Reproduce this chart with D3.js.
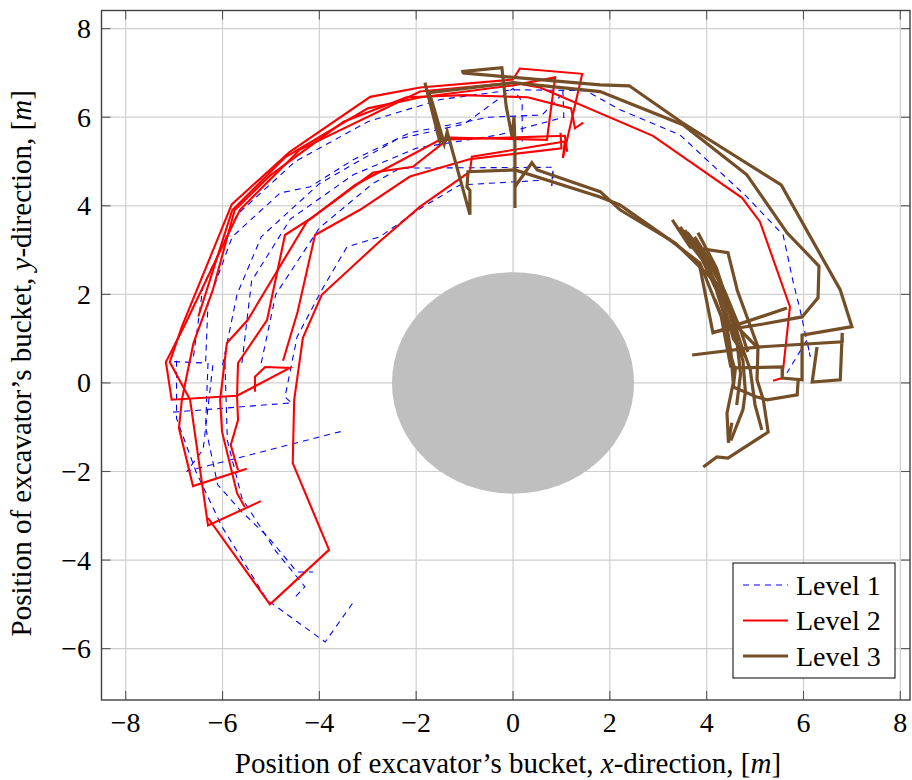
<!DOCTYPE html>
<html>
<head>
<meta charset="utf-8">
<script src="https://cdn.jsdelivr.net/npm/d3@7"></script>
<style>
  body { margin: 0; background: #fff; }
  svg text { font-family: "Liberation Serif", "DejaVu Serif", serif; fill: #000; }
</style>
</head>
<body>
<div class="chart"></div>
<script>
// ticks
var xTicks = [-8, -6, -4, -2, 0, 2, 4, 6, 8];
var yTicks = [-6, -4, -2, 0, 2, 4, 6, 8];

// obstacle (machine body) radius, m
var obstacleRadius = 2.5;

// Level 1 bucket trajectories [x, y] in m
var level1 = [
  [[-6.95,0.5],[-6.95,-0.8],[-6.55,-2.0],[-6.01,-3.25],[-5.08,-4.9],[-3.88,-5.85],[-3.31,-4.97]],
  [[-6.3,0.45],[-6.35,-1.0],[-6.1,-2.3],[-5.64,-2.87],[-5.06,-3.48],[-4.46,-4.27],[-4.13,-4.27]],
  [[-5.95,0.45],[-5.9,-1.3],[-5.6,-2.6],[-4.9,-3.8],[-4.3,-4.6],[-4.55,-4.9]],
  [[-6.2,0.4],[-6.4,-1.5],[-6.73,-1.99],[-3.53,-1.09]],
  [[-7.02,-0.66],[-4.57,-0.45],[-4.71,-0.32],[-4.46,1.04],[-3.95,2.1],[-3.43,3.07],[-2.75,3.3],[-1.9,3.95],[-1.1,4.47],[0.83,4.59],[0.82,4.8],[0.8,4.45]],
  [[-7.0,0.48],[-6.35,0.45],[-6.3,1.8],[-5.8,3.3],[-4.81,4.29],[-4.19,4.43],[-3.3,5.04],[-2.13,5.65],[-0.5,6.0],[0.6,6.05],[1.0,6.5]],
  [[-6.6,0.6],[-6.4,2.2],[-5.7,3.8],[-4.5,5.0],[-3.0,5.9],[-1.5,6.4],[0,6.62],[1.5,6.6],[2.21,6.17],[3.45,5.6],[4.83,4.2],[5.58,3.34],[5.79,2.26],[5.93,1.65],[6.14,0.59],[6.07,0.97],[5.66,0.23]],
  [[-6.0,0.4],[-5.7,2.0],[-5.2,3.3],[-4.0,4.5],[-2.4,5.5],[-1.0,5.85],[0.0,6.65],[0.19,6.35],[0.19,5.45]],
  [[-5.6,0.45],[-5.4,2.3],[-4.6,3.7],[-3.3,4.7],[-2.0,5.3],[-0.3,5.6],[1.05,6.0],[1.03,6.6]],
  [[-5.2,0.45],[-4.9,2.0],[-4.0,3.5],[-2.9,4.5],[-2.33,4.85],[0.83,4.87],[0.8,4.45]]
];

// Level 2 bucket trajectories
var level2 = [
  [[-5.21,-2.67],[-6.3,-3.22],[-6.67,-0.38],[-7.09,0.47],[-6.84,1.27],[-5.81,4.03],[-4.61,5.22],[-2.95,6.46],[-1.92,6.67],[0,6.85],[0.14,7.1],[1.43,6.98],[1.03,5.08]],
  [[-5.33,-0.2],[-5.33,0.14],[-5.12,0.36],[-4.61,0.34],[-5.7,-0.29],[-7.05,-0.38],[-7.17,0.47],[-6.78,1.31],[-5.64,3.91],[-4.4,5.27],[-1.92,6.58],[0,6.78],[0.56,6.67],[2.89,5.58],[4.73,4.18],[5.1,3.64],[5.72,1.72],[5.56,0.11],[5.37,0.05]],
  [[-6.3,-3.05],[-5.02,-5.0],[-3.8,-3.77],[-4.55,-1.81],[-4.52,-0.38],[-4.34,1.02],[-3.95,1.99],[-2.79,3.16],[-1.92,3.98],[-0.89,4.77],[-0.85,5.11],[1.07,5.45],[1.03,5.08]],
  [[-5.54,-2.8],[-5.7,-2.49],[-6.01,-1.1],[-6.05,-0.38],[-5.91,0.9],[-5.48,1.42],[-4.26,3.64],[-3.26,4.47],[-1.51,5.49],[1.07,5.58],[1.12,5.22]],
  [[-5.68,-1.97],[-5.83,-1.4],[-5.68,-0.84],[-5.7,-0.3],[-5.68,0.45],[-5.08,1.42],[-4.71,3.34],[-4.13,3.75],[-2.89,4.75],[-2.07,4.88],[-1.3,5.54],[0.7,5.49],[0.87,6.9],[0,6.72],[-1.9,6.45],[-3.0,6.2],[-4.7,5.1],[-5.8,3.9],[-6.5,1.5]],
  [[-5.5,-1.94],[-6.61,-2.33],[-6.9,-1.02],[-6.84,-0.38],[-6.6,0.9],[-6.2,2.1],[-5.75,3.9],[-5.0,4.7],[-3.5,5.9],[-2.2,6.45],[-1.0,6.5],[0.3,6.45],[1.2,6.2],[1.28,5.75],[1.45,5.88]],
  [[-4.75,0.5],[-4.45,1.6],[-4.09,3.34],[-3.16,3.91],[-2.13,4.66],[-0.9,5.05],[1.0,5.3],[0.98,5.65]]
];

// Level 3 bucket trajectories
var level3 = [
  [[-1.82,6.78],[-1.5,5.4],[-1.75,6.6],[-1.45,5.45],[-1.7,6.45],[-1.42,5.4],[-1.36,5.67],[-0.89,3.8],[-0.89,4.35],[-0.95,4.42],[-0.93,4.77],[0.04,4.81],[1.8,4.2],[2.21,4.02],[3.24,3.23],[3.86,2.71],[4.3,1.5],[4.5,0.35]],
  [[-1.07,7.03],[-0.23,7.12],[-0.14,6.24],[-0.02,5.56],[0.02,6.01],[0.04,5.38],[0.04,3.95]],
  [[-1.05,7.0],[1.8,6.73],[2.4,6.71],[3.49,5.88],[5.54,4.47],[6.76,2.1],[7.0,1.27],[5.97,1.08],[5.97,0.07],[5.56,0.11],[5.56,0.36],[4.55,0.34]],
  [[-1.78,6.55],[0,6.78],[1.8,6.58],[3.51,5.83],[4.83,4.7],[5.66,3.39],[6.32,2.64],[6.3,1.92],[5.97,1.49],[5.17,1.33],[4.13,1.15]],
  [[0.04,4.43],[0.39,4.97],[0.5,4.81],[1.8,4.32],[2.21,3.91],[3.35,3.16],[4.28,2.17],[4.6,1.2],[4.7,0.2],[4.62,-0.5]],
  [[3.29,3.68],[3.66,3.07],[4.44,2.94],[4.59,2.28],[4.63,2.1],[5.06,0.81],[5.04,0.07],[5.17,-0.38],[5.27,-1.11],[4.44,-1.7],[4.21,-1.67],[3.93,-1.9]],
  [[3.82,3.39],[4.2,2.6],[4.5,1.6],[4.7,0.9],[4.9,0.3],[5.0,-0.5],[5.14,-1.06]],
  [[3.4,3.5],[3.9,2.8],[4.2,2.1],[4.4,1.4],[4.5,0.7],[4.55,0.0],[4.42,-0.68],[4.45,-1.35],[4.52,-0.9]],
  [[3.7,0.63],[5.04,0.81],[6.8,0.93],[6.8,1.13],[6.76,0.07],[6.18,0.02],[6.28,0.81]],
  [[3.86,2.62],[4.13,1.13],[5.66,1.69]],
  [[4.55,-0.09],[5.04,-0.32],[5.25,-0.38],[5.87,-0.27],[5.89,0.07]],
  [[4.55,-0.09],[4.59,0.29],[4.48,0.68],[4.42,1.2],[4.17,1.88]],
  [[3.6,3.4],[3.95,2.9],[4.25,2.3],[4.45,1.7],[4.6,1.0],[4.75,0.5],[4.8,-0.2],[4.75,-0.6],[4.5,-1.3]],
  [[3.45,3.52],[3.9,2.9],[4.3,2.0],[4.6,1.3],[5.04,0.81]],
  [[3.55,3.45],[4.0,2.7],[4.35,1.8],[4.55,1.0],[4.8,0.6]],
  [[3.75,3.3],[4.1,2.7],[4.4,2.0],[4.7,1.2],[4.85,0.7]]
];

var seriesNames = ["Level 1", "Level 2", "Level 3"];

var width = 912, height = 780;
var mLeft = 101.5, mRight = 910, mTop = 10.5, mBottom = 700;

var svg = d3.select(".chart").append("svg")
  .attr("width", width).attr("height", height);

var x = d3.scaleLinear().domain([-8.5, 8.2]).range([mLeft, mRight]);
var y = d3.scaleLinear().domain([-7.16, 8.41]).range([mBottom, mTop]);

// grid
svg.append("g").selectAll("line").data(xTicks).enter().append("line")
  .attr("x1", d => x(d)).attr("x2", d => x(d)).attr("y1", mTop).attr("y2", mBottom)
  .attr("stroke", "#cfcfcf").attr("stroke-width", 1.2);
svg.append("g").selectAll("line").data(yTicks).enter().append("line")
  .attr("y1", d => y(d)).attr("y2", d => y(d)).attr("x1", mLeft).attr("x2", mRight)
  .attr("stroke", "#cfcfcf").attr("stroke-width", 1.2);

// obstacle
svg.append("ellipse")
  .attr("cx", x(0)).attr("cy", y(0))
  .attr("rx", x(obstacleRadius) - x(0)).attr("ry", y(0) - y(obstacleRadius))
  .attr("fill", "#bfbfbf");

var line = d3.line().x(d => x(d[0])).y(d => y(d[1]));
svg.append("clipPath").attr("id", "plotclip").append("rect")
  .attr("x", mLeft).attr("y", mTop).attr("width", mRight - mLeft).attr("height", mBottom - mTop);
var plot = svg.append("g").attr("clip-path", "url(#plotclip)");

var styles = [
  { color: "#0000ff", w: 1.1, dash: "6,5" },
  { color: "#ff0000", w: 2.1, dash: null },
  { color: "#744e27", w: 3.2, dash: null }
];

[level1, level2, level3].forEach(function (paths, i) {
  plot.append("g").selectAll("path").data(paths).enter().append("path")
    .attr("d", line)
    .attr("fill", "none")
    .attr("stroke", styles[i].color)
    .attr("stroke-width", styles[i].w)
    .attr("stroke-linejoin", "miter")
    .attr("stroke-dasharray", styles[i].dash);
});

// ticks, inside on all four sides
var tl = 9;
var ticks = svg.append("g").attr("stroke", "#555").attr("stroke-width", 1.1);
xTicks.forEach(function (t) {
  ticks.append("line").attr("x1", x(t)).attr("x2", x(t)).attr("y1", mBottom).attr("y2", mBottom - tl);
  ticks.append("line").attr("x1", x(t)).attr("x2", x(t)).attr("y1", mTop).attr("y2", mTop + tl);
});
yTicks.forEach(function (t) {
  ticks.append("line").attr("y1", y(t)).attr("y2", y(t)).attr("x1", mLeft).attr("x2", mLeft + tl);
  ticks.append("line").attr("y1", y(t)).attr("y2", y(t)).attr("x1", mRight).attr("x2", mRight - tl);
});

// frame
svg.append("rect").attr("x", mLeft).attr("y", mTop)
  .attr("width", mRight - mLeft).attr("height", mBottom - mTop)
  .attr("fill", "none").attr("stroke", "#404040").attr("stroke-width", 1.4);

function fmt(v) { return v < 0 ? "\u2212" + Math.abs(v) : String(v); }

svg.append("g").selectAll("text").data(xTicks).enter().append("text")
  .attr("x", d => x(d)).attr("y", 732)
  .attr("text-anchor", "middle").style("font-size", "28px")
  .text(fmt);
svg.append("g").selectAll("text").data(yTicks).enter().append("text")
  .attr("x", 91).attr("y", d => y(d) + 9.5)
  .attr("text-anchor", "end").style("font-size", "28px")
  .text(fmt);

// axis labels
var xl = svg.append("text").attr("x", 508).attr("y", 773)
  .attr("text-anchor", "middle").style("font-size", "29px");
xl.append("tspan").text("Position of excavator\u2019s bucket, ");
xl.append("tspan").style("font-style", "italic").text("x");
xl.append("tspan").text("-direction, [");
xl.append("tspan").style("font-style", "italic").text("m");
xl.append("tspan").text("]");

var yl = svg.append("text")
  .attr("transform", "translate(31," + ((mTop + mBottom) / 2 + 8) + ") rotate(-90)")
  .attr("text-anchor", "middle").style("font-size", "29px");
yl.append("tspan").text("Position of excavator\u2019s bucket, ");
yl.append("tspan").style("font-style", "italic").text("y");
yl.append("tspan").text("-direction, [");
yl.append("tspan").style("font-style", "italic").text("m");
yl.append("tspan").text("]");

// legend
var lg = svg.append("g").attr("transform", "translate(733,563)");
lg.append("rect").attr("width", 162).attr("height", 115)
  .attr("fill", "#fff").attr("stroke", "#000").attr("stroke-width", 1);
seriesNames.forEach(function (name, i) {
  var cy = 22 + i * 35.5;
  lg.append("line").attr("x1", 10).attr("x2", 55).attr("y1", cy).attr("y2", cy)
    .attr("stroke", styles[i].color).attr("stroke-width", styles[i].w)
    .attr("stroke-dasharray", styles[i].dash);
  lg.append("text").attr("x", 63).attr("y", cy + 9.5)
    .style("font-size", "28px").text(name);
});
</script>
</body>
</html>
